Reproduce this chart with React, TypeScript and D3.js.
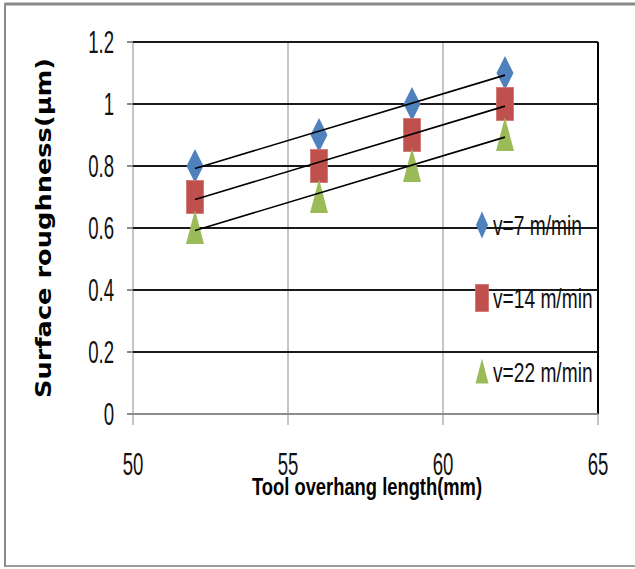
import React from "react";
import * as d3 from "d3";

const X_VALUES = [52, 56, 59, 62];
const SERIES_7 = [0.8, 0.9, 1.0, 1.1];
const SERIES_14 = [0.7, 0.8, 0.9, 1.0];
const SERIES_22 = [0.6, 0.7, 0.8, 0.9];
const SERIES_NAMES = ["v=7 m/min", "v=14 m/min", "v=22 m/min"];
const SERIES_COLORS = ["#4F81BD", "#C0504D", "#9BBB59"];
const X_TICKS = [50, 55, 60, 65];
const Y_TICKS = [0, 0.2, 0.4, 0.6, 0.8, 1, 1.2];
const X_TITLE = "Tool overhang length(mm)";
const Y_TITLE = "Surface roughness(\u03bcm)";

const W = 635;
const H = 569;
const FONT = "'Liberation Sans', Arial, sans-serif";

function regression(xs: number[], ys: number[]) {
  const mx = d3.mean(xs) as number;
  const my = d3.mean(ys) as number;
  let sxx = 0, sxy = 0;
  xs.forEach((x, i) => {
    sxx += (x - mx) * (x - mx);
    sxy += (x - mx) * (ys[i] - my);
  });
  const slope = sxy / sxx;
  return (x: number) => my + slope * (x - mx);
}

function Marker({ kind, cx, cy, w, h, color }: any) {
  if (kind === 0) {
    const p = `M${cx},${cy - h / 2} L${cx + w / 2},${cy} L${cx},${cy + h / 2} L${cx - w / 2},${cy} Z`;
    return <path d={p} fill={color} />;
  }
  if (kind === 1) {
    return <rect x={cx - w / 2} y={cy - h / 2} width={w} height={h} fill={color} stroke="#d07370" strokeWidth={0.8} />;
  }
  const p = `M${cx},${cy - h / 2 - 1} L${cx + w / 2},${cy + h / 2 - 1} L${cx - w / 2},${cy + h / 2 - 1} Z`;
  return <path d={p} fill={color} />;
}

export default function App() {
  const x = d3.scaleLinear().domain([50, 65]).range([133, 598]);
  const y = d3.scaleLinear().domain([0, 1.2]).range([414, 42]);
  const series = [SERIES_7, SERIES_14, SERIES_22];
  const x0 = X_VALUES[0];
  const x1 = X_VALUES[X_VALUES.length - 1];
  const lineGen = d3.line<[number, number]>().x((d) => x(d[0])).y((d) => y(d[1]));

  const legendY = [225, 298, 372];

  return (
    <svg
      width={W}
      height={H}
      style={{ position: "absolute", left: 0, top: 0, background: "#fff" }}
    >
      {/* outer border */}
      <line x1={5} y1={4} x2={635} y2={4} stroke="#8a8a8a" strokeWidth={3} />
      <line x1={5} y1={3} x2={5} y2={567} stroke="#8a8a8a" strokeWidth={2} />
      <line x1={5} y1={566} x2={635} y2={566} stroke="#9a9a9a" strokeWidth={2} />

      {/* vertical gridlines */}
      {X_TICKS.map((t) => (
        <line key={"vg" + t} x1={x(t)} x2={x(t)} y1={y(1.2)} y2={425} stroke="#8c8c8c" strokeWidth={1} />
      ))}
      {/* right border of plot */}
      <line x1={x(65)} x2={x(65)} y1={y(1.2)} y2={y(0)} stroke="#000" strokeWidth={2} />

      {/* horizontal gridlines */}
      {Y_TICKS.filter((t) => t > 0).map((t) => (
        <g key={"hg" + t}>
          <line x1={127} x2={x(50)} y1={y(t)} y2={y(t)} stroke="#8c8c8c" strokeWidth={2} />
          <line x1={x(50)} x2={x(65)} y1={y(t)} y2={y(t)} stroke="#1a1a1a" strokeWidth={2} />
        </g>
      ))}
      {/* x axis line */}
      <line x1={127} x2={x(65)} y1={y(0)} y2={y(0)} stroke="#8c8c8c" strokeWidth={2} />

      {/* y tick labels */}
      {Y_TICKS.map((t) => (
        <g key={"yl" + t} transform={`translate(114,${y(t) + 11}) scale(0.6,1)`}>
          <text textAnchor="end" fontFamily={FONT} fontSize={31} fill="#111">
            {d3.format("~g")(t)}
          </text>
        </g>
      ))}
      {/* x tick labels */}
      {X_TICKS.map((t) => (
        <g key={"xl" + t} transform={`translate(${x(t)},475) scale(0.6,1)`}>
          <text textAnchor="middle" fontFamily={FONT} fontSize={31} fill="#111">
            {t}
          </text>
        </g>
      ))}

      {/* markers */}
      {series.map((vals, si) =>
        vals.map((v, i) => (
          <Marker
            key={"m" + si + "-" + i}
            kind={si}
            cx={x(X_VALUES[i])}
            cy={y(v)}
            w={si === 2 ? 18 : 17}
            h={si === 1 ? 33 : 34}
            color={SERIES_COLORS[si]}
          />
        ))
      )}

      {/* trendlines */}
      {series.map((vals, si) => {
        const f = regression(X_VALUES, vals);
        return (
          <path
            key={"tl" + si}
            d={lineGen([[x0, f(x0)], [x1, f(x1)]]) as string}
            fill="none"
            stroke="#000"
            strokeWidth={1.6}
          />
        );
      })}

      {/* legend */}
      {SERIES_NAMES.map((name, si) => (
        <g key={"lg" + si}>
          <Marker kind={si} cx={482} cy={legendY[si]} w={si === 0 ? 12 : 13} h={si === 2 ? 25 : 27} color={SERIES_COLORS[si]} />
          <g transform={`translate(493,${legendY[si] + 10}) scale(0.71,1)`}>
            <text fontFamily={FONT} fontSize={27} fill="#111">
              {name}
            </text>
          </g>
        </g>
      ))}

      {/* axis titles */}
      <text
        x={367}
        y={495}
        textAnchor="middle"
        fontFamily={FONT}
        fontWeight="bold"
        fontSize={23}
        textLength={230}
        lengthAdjust="spacingAndGlyphs"
        fill="#000"
      >
        {X_TITLE}
      </text>
      <text
        transform="translate(51,228) rotate(-90)"
        textAnchor="middle"
        fontFamily="'DejaVu Sans', Verdana, sans-serif"
        fontWeight="bold"
        fontSize={22}
        textLength={340}
        lengthAdjust="spacingAndGlyphs"
        fill="#000"
      >
        {Y_TITLE}
      </text>
    </svg>
  );
}
